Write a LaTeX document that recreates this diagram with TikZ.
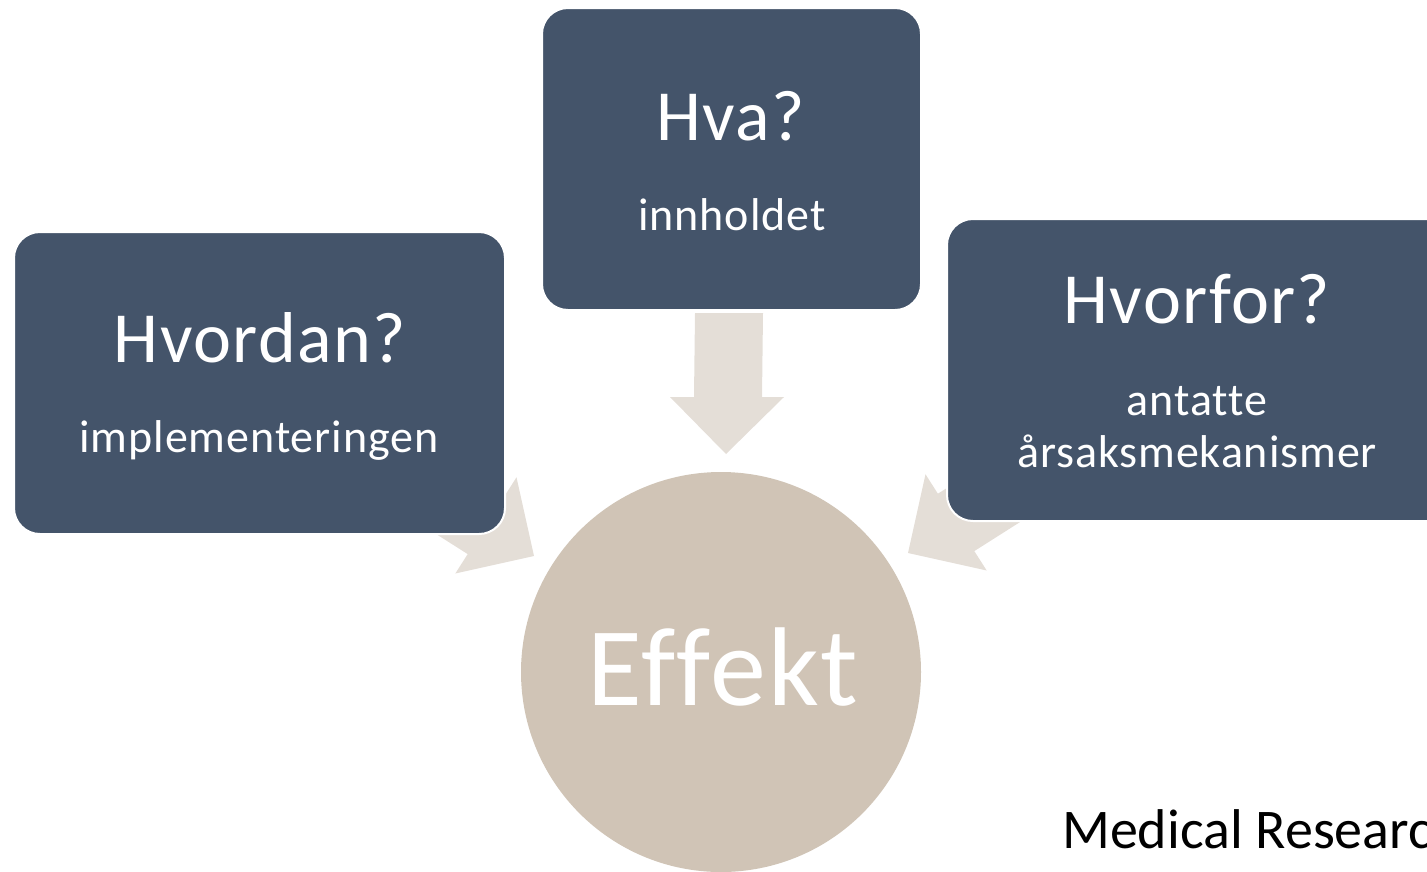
\documentclass[tikz,border=0pt]{standalone}
\usepackage{fontspec}
\setmainfont{Carlito}[Ligatures={NoCommon}, LetterSpace=2]
\definecolor{boxblue}{HTML}{44546A}
\definecolor{circbeige}{HTML}{D0C4B6}
\definecolor{arrowbeige}{HTML}{E4DED7}
\newcommand{\fsz}[1]{\fontsize{#1}{#1}\selectfont}
\tikzset{
  boxnode/.style={draw=white, line width=2pt, fill=boxblue, rounded corners=26pt, inner sep=0pt},
  head/.style={text=white, anchor=base, inner sep=0pt, font=\fsz{72}},
  sub/.style={text=white, anchor=base, inner sep=0pt, font=\fsz{46}},
  blockarrow/.style={fill=arrowbeige, draw=none},
}
\begin{document}
\begin{tikzpicture}[x=1pt,y=-1pt]
\useasboundingbox (0,0) rectangle (1427,871);
\clip (0,0) rectangle (1427,871);
% block arrows
\fill[blockarrow] (534,556) -- (455.3,573.5) -- (467.7,554.1) -- (383.3,500.5) -- (419.7,443.1) -- (504.1,496.7) -- (516.5,477.3) -- cycle;
\fill[blockarrow] (908,553) -- (986.7,570.5) -- (974.3,551.1) -- (1058.7,497.5) -- (1022.3,440.1) -- (937.9,493.7) -- (925.5,474.3) -- cycle;
\fill[blockarrow] (726,454) -- (670,397) -- (694,397) -- (695,313) -- (763,313) -- (762,397) -- (784,397) -- cycle;
% boxes
\node[boxnode, minimum width=491pt, minimum height=302pt] (hvordan) at (259.5,383) {};
\node[boxnode, minimum width=379pt, minimum height=302pt] (hva) at (731.5,159) {};
\node[boxnode, minimum width=520pt, minimum height=302pt] (hvorfor) at (1207,370) {};
% circle
\node[circle, fill=circbeige, minimum size=400pt, inner sep=0pt] (effekt) at (721,672) {};
% texts
\node[head] (t1) at (260,362) {Hvordan?};
\node[sub] (s1) at (259,452) {implementeringen};
\node[head] (t2) at (731,140) {Hva?};
\node[sub] (s2) at (732,230) {innholdet};
\node[head] (t3) at (1197,323) {Hvorfor?};
\node[sub] (s3a) at (1197,415) {antatte};
\node[sub] (s3b) at (1197,467) {årsaksmekanismer};
\node[text=white, anchor=base, inner sep=0pt, font=\fsz{112}] (t4) at (723,705) {Effekt};
\node[anchor=base west, inner sep=0pt, font={\fsz{56}\addfontfeatures{LetterSpace=0}}] (mrc) at (1062,848) {Medical Research Council};
\end{tikzpicture}
\end{document}
